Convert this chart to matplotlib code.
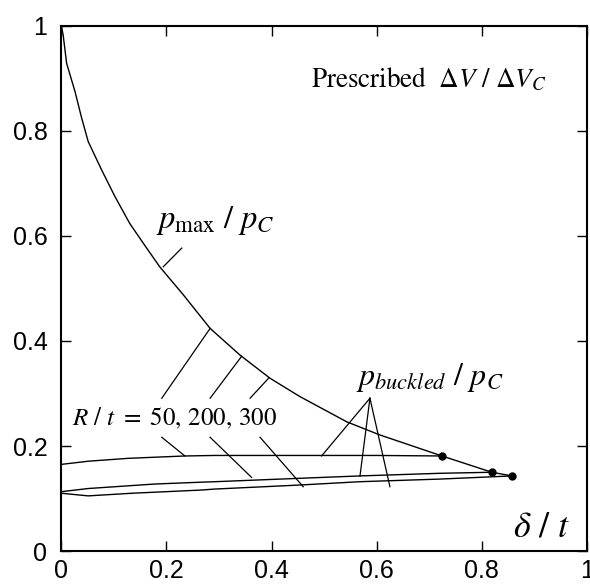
import matplotlib
matplotlib.use("Agg")
import matplotlib.pyplot as plt

plt.rcParams['mathtext.fontset'] = 'stix'
plt.rcParams['font.family'] = ['Liberation Sans', 'DejaVu Sans']

# p_max / p_C curve
pmax_x = [0, 0.0034, 0.010, 0.026, 0.038, 0.051, 0.0765, 0.102, 0.130, 0.156,
          0.187, 0.232, 0.283, 0.340, 0.397, 0.454, 0.543, 0.606, 0.724,
          0.819, 0.857]
pmax_y = [1.0, 0.983, 0.929, 0.875, 0.827, 0.780, 0.726, 0.675, 0.624, 0.586,
          0.5415, 0.488, 0.424, 0.373, 0.329, 0.294, 0.246, 0.221, 0.181,
          0.150, 0.143]

# p_buckled / p_C curves for R/t = 50, 200, 300
b50_x = [0, 0.051, 0.127, 0.235, 0.292, 0.45, 0.6, 0.724]
b50_y = [0.165, 0.171, 0.1765, 0.181, 0.182, 0.182, 0.182, 0.181]
b200_x = [0, 0.051, 0.178, 0.264, 0.292, 0.454, 0.568, 0.720, 0.819]
b200_y = [0.113, 0.119, 0.1276, 0.131, 0.132, 0.1385, 0.143, 0.148, 0.150]
b300_x = [0, 0.051, 0.134, 0.264, 0.292, 0.454, 0.568, 0.720, 0.857]
b300_y = [0.110, 0.105, 0.110, 0.116, 0.118, 0.1257, 0.132, 0.137, 0.143]

# end points where buckled curves meet p_max
end_x = [0.724, 0.819, 0.857]
end_y = [0.181, 0.150, 0.143]

ticks = [0, 0.2, 0.4, 0.6, 0.8, 1]
tick_labels = ['0', '0.2', '0.4', '0.6', '0.8', '1']

fig = plt.figure(figsize=(5.9, 5.84), dpi=100)
ax = fig.add_axes([0.104, 0.0565, 0.891, 0.899])

ax.plot(pmax_x, pmax_y, color='black', lw=1.0)
ax.plot(b50_x, b50_y, color='black', lw=1.0)
ax.plot(b200_x, b200_y, color='black', lw=1.0)
ax.plot(b300_x, b300_y, color='black', lw=1.0)
ax.plot(end_x, end_y, 'o', color='black', ms=5, zorder=5)

ax.set_xlim(0, 1)
ax.set_ylim(0, 1)
ax.set_xticks(ticks)
ax.set_yticks(ticks)
ax.set_xticklabels(tick_labels)
ax.set_yticklabels(tick_labels)
ax.tick_params(direction='in', length=7, width=1, top=True, right=True,
               labelsize=18)
ax.tick_params(axis='y', pad=10)
ax.tick_params(axis='x', pad=6)
for s in ax.spines.values():
    s.set_linewidth(1.5)

# leader lines
def leader(x0, y0, x1, y1):
    ax.plot([x0, x1], [y0, y1], color='black', lw=0.9)

leader(0.229, 0.577, 0.194, 0.5415)
# R/t up to p_max
leader(0.191, 0.291, 0.283, 0.424)
leader(0.283, 0.291, 0.343, 0.371)
leader(0.359, 0.291, 0.395, 0.330)
# R/t down to buckled curves
leader(0.191, 0.2166, 0.235, 0.181)
leader(0.283, 0.2166, 0.362, 0.140)
leader(0.378, 0.2166, 0.460, 0.1225)
# p_buckled
leader(0.587, 0.291, 0.495, 0.181)
leader(0.587, 0.291, 0.568, 0.1425)
leader(0.587, 0.291, 0.625, 0.1225)

ax.text(0.699, 0.897, r'$\mathrm{Prescribed}\ \ \Delta V\ /\ \Delta V_C$',
        fontsize=19.5, ha='center', va='center')
ax.text(0.292, 0.630, r'$p_{\max}\ /\ p_C$', fontsize=23.5,
        ha='center', va='center')
ax.text(0.216, 0.253, r'$R\ /\ t\ =\ 50,\,200,\,300$', fontsize=18,
        ha='center', va='center')
ax.text(0.701, 0.330, r'$p_{buckled}\ /\ p_C$', fontsize=23,
        ha='center', va='center')
ax.text(0.914, 0.046, r'$\delta\ /\ t$', fontsize=26,
        ha='center', va='center')

fig.savefig('out.png', dpi=100)
